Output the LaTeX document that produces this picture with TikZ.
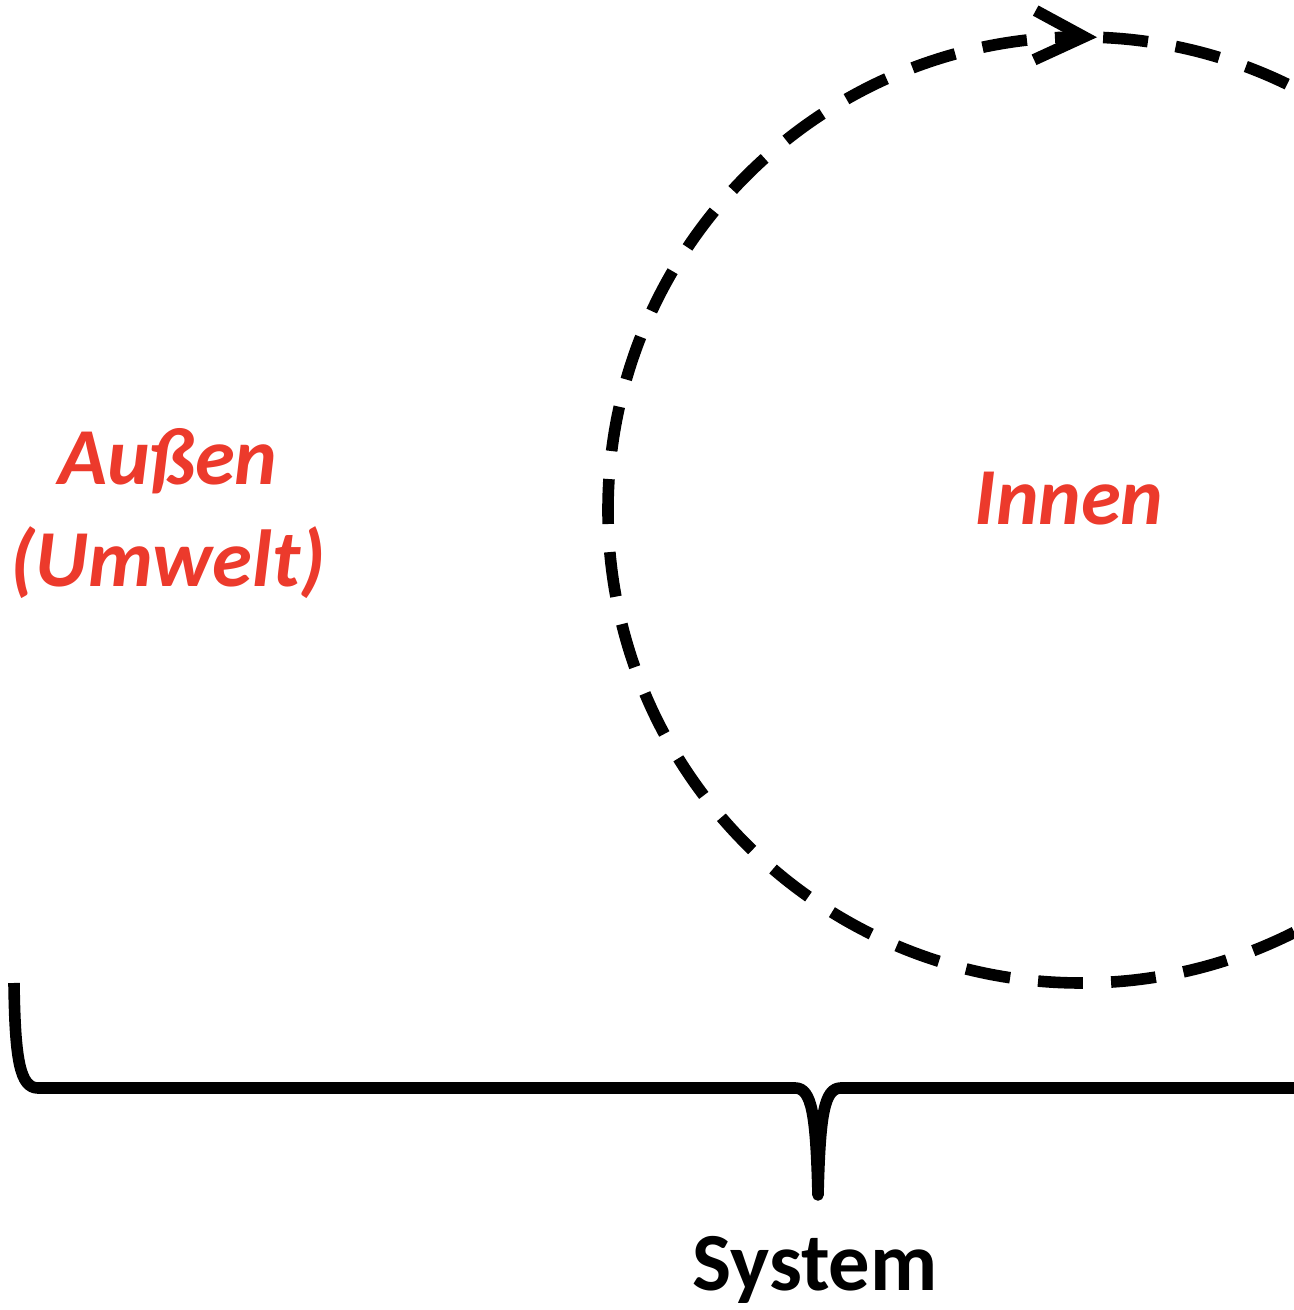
\documentclass[tikz,border=0pt]{standalone}
\usepackage{fontspec}
\setmainfont{Carlito}
\usetikzlibrary{arrows.meta,decorations.markings}
\definecolor{rot}{RGB}{236,58,44}

\begin{document}
\begin{tikzpicture}
    [line width=3.3pt,
     seite/.style={text=rot,font=\fontsize{23}{29}\selectfont\bfseries\itshape,align=center},
     kreis/.style={dash pattern=on 12.8pt off 8pt,dash phase=14.5pt,
       postaction={decorate,decoration={markings,
         mark=at position 0.16cm with {\arrow{Straight Barb[length=14pt,width=14pt]}}}}},
     klammer/.style={line join=round,line cap=butt}]
    \useasboundingbox (0,0) rectangle (12.94,13.10);
    \clip (0,0) rectangle (12.94,13.10);
    \node[seite] (aussen) at (1.68,7.96) {Außen\\(Umwelt)};
    \node[seite] (innen) at (10.69,8.11) {Innen};
    \node[anchor=base,font=\fontsize{23.5}{28}\selectfont\bfseries] (system) at (8.15,0.20) {System};
    \coordinate (oben) at (10.81,12.73);
    \coordinate (links) at (0.14,3.27);
    \coordinate (spitze) at (8.18,1.15);
    \coordinate (rechts) at (16.22,3.27);
    \draw[kreis] (oben) arc[start angle=90,end angle=-270,radius=4.73cm];
    \draw[klammer] (links) .. controls (0.15,2.5) and (0.2,2.22) .. (0.38,2.22)
      -- (7.95,2.22) .. controls (8.12,2.22) and (8.16,1.95) .. (spitze)
      .. controls (8.20,1.95) and (8.24,2.22) .. (8.41,2.22)
      -- (15.98,2.22) .. controls (16.16,2.22) and (16.21,2.5) .. (rechts);
\end{tikzpicture}
\end{document}
